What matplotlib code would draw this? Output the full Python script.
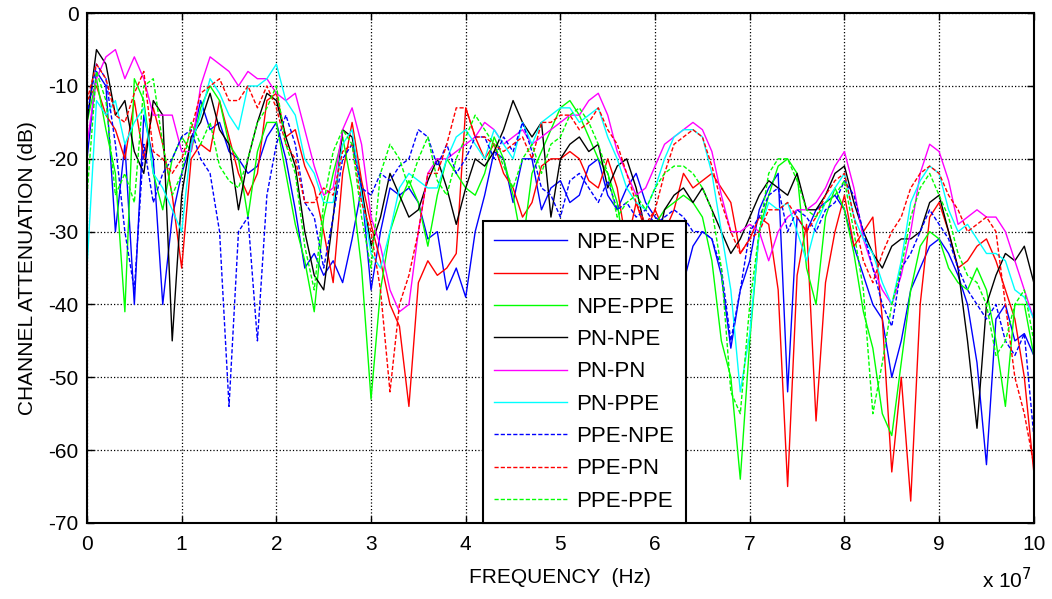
import numpy as np
import matplotlib
matplotlib.use("Agg")
import matplotlib.pyplot as plt

plt.rcParams['font.family'] = ['Liberation Sans', 'DejaVu Sans']
plt.rcParams['axes.unicode_minus'] = False

# frequency grid, MHz
freq_mhz = np.arange(0, 101)

npe_npe = [-20, -8, -10, -30, -18, -40, -14, -20, -40, -28,
           -22, -18, -12, -16, -15, -19, -20, -22, -21, -17,
           -15, -20, -27, -35, -33, -36, -34, -37, -31, -24,
           -38, -30, -24, -25, -24, -26, -31, -30, -38, -35,
           -39, -30, -25, -19, -20, -26, -20, -20, -27, -24,
           -23, -26, -25, -21, -20, -25, -27, -24, -22, -26,
           -28, -29, -30, -37, -32, -30, -31, -36, -46, -38,
           -34, -27, -24, -22, -52, -28, -30, -27, -26, -25,
           -27, -32, -36, -40, -42, -50, -45, -38, -35, -32,
           -31, -33, -36, -40, -48, -62, -42, -40, -45, -44, -47]

npe_pn = [-12, -10, -14, -16, -20, -12, -20, -13, -18, -25,
          -35, -20, -18, -19, -12, -17, -22, -25, -22, -12,
          -11, -17, -16, -21, -24, -30, -37, -22, -15, -23,
          -29, -34, -40, -43, -54, -37, -34, -36, -35, -33,
          -13, -17, -20, -18, -22, -24, -28, -26, -21, -20,
          -20, -19, -20, -23, -24, -20, -24, -32, -26, -30,
          -27, -30, -27, -22, -24, -23, -22, -24, -26, -33,
          -31, -28, -29, -38, -65, -36, -29, -56, -37, -30,
          -25, -32, -30, -28, -42, -63, -50, -67, -40, -28,
          -26, -30, -35, -34, -32, -31, -34, -38, -42, -50, -63]

npe_ppe = [-15, -9, -16, -22, -41, -9, -12, -22, -27, -20,
           -17, -19, -13, -10, -12, -18, -20, -28, -19, -15,
           -15, -22, -29, -34, -41, -28, -22, -17, -24, -35,
           -53, -38, -30, -26, -23, -26, -32, -25, -20, -22,
           -24, -25, -22, -17, -20, -25, -32, -22, -19, -16,
           -13, -12, -14, -17, -20, -22, -26, -35, -30, -30,
           -29, -27, -26, -25, -26, -28, -34, -45, -50, -64,
           -45, -30, -25, -21, -20, -22, -35, -40, -28, -24,
           -27, -33, -41, -46, -55, -58, -48, -38, -32, -30,
           -31, -35, -37, -38, -35, -38, -45, -54, -40, -40, -47]

pn_npe = [-15, -5, -7, -14, -12, -19, -22, -12, -14, -45,
          -25, -17, -15, -11, -16, -18, -27, -20, -15, -11,
          -12, -17, -21, -30, -36, -38, -28, -16, -17, -24,
          -32, -28, -22, -25, -28, -27, -23, -20, -24, -29,
          -24, -20, -21, -19, -16, -12, -15, -17, -15, -28,
          -20, -18, -17, -19, -18, -24, -21, -20, -24, -30,
          -33, -27, -25, -24, -26, -24, -27, -30, -33, -31,
          -28, -25, -23, -24, -25, -22, -27, -27, -25, -22,
          -21, -26, -30, -33, -35, -32, -31, -31, -30, -26,
          -25, -30, -35, -45, -57, -40, -36, -33, -34, -32, -37]

pn_pn = [-18, -9, -6, -5, -9, -6, -9, -14, -14, -14,
         -19, -19, -10, -6, -7, -8, -10, -8, -9, -9,
         -11, -12, -11, -16, -21, -25, -24, -16, -13, -18,
         -28, -32, -38, -41, -40, -30, -22, -20, -20, -19,
         -18, -17, -15, -16, -18, -17, -16, -18, -17, -16,
         -15, -14, -14, -12, -11, -14, -19, -22, -25, -24,
         -21, -18, -17, -16, -15, -16, -19, -25, -30, -30,
         -29, -30, -34, -30, -28, -27, -27, -26, -24, -21,
         -19, -24, -31, -35, -38, -40, -36, -30, -22, -18,
         -19, -23, -29, -28, -27, -28, -28, -30, -34, -38, -42]

pn_ppe = [-35, -12, -14, -12, -18, -15, -13, -22, -24, -27,
          -30, -18, -14, -9, -11, -14, -16, -10, -10, -9,
          -7, -12, -14, -20, -22, -26, -26, -18, -16, -25,
          -33, -35, -30, -24, -22, -23, -24, -24, -20, -17,
          -16, -18, -20, -16, -18, -20, -15, -18, -15, -14,
          -13, -13, -15, -14, -13, -17, -20, -24, -26, -27,
          -24, -20, -17, -16, -16, -17, -22, -30, -38, -52,
          -44, -30, -26, -27, -26, -30, -34, -29, -26, -24,
          -22, -28, -31, -33, -37, -40, -34, -26, -23, -21,
          -22, -27, -30, -29, -31, -33, -33, -34, -38, -39, -42]

ppe_npe = [-14, -7, -9, -18, -30, -38, -18, -26, -22, -20,
           -17, -16, -20, -22, -30, -54, -30, -28, -45, -25,
           -18, -14, -18, -26, -28, -35, -28, -20, -18, -24,
           -25, -22, -23, -21, -20, -16, -17, -21, -18, -22,
           -20, -17, -17, -20, -17, -19, -15, -19, -24, -25,
           -28, -23, -22, -24, -26, -23, -27, -26, -28, -27,
           -29, -28, -27, -28, -30, -30, -31, -35, -45, -38,
           -30, -28, -25, -24, -30, -27, -28, -30, -27, -26,
           -23, -25, -30, -35, -40, -43, -35, -33, -30, -27,
           -29, -31, -35, -38, -40, -42, -40, -45, -47, -44, -58]

ppe_pn = [-12, -7, -9, -14, -15, -11, -8, -19, -20, -22,
          -20, -16, -11, -10, -9, -12, -12, -10, -13, -10,
          -13, -18, -20, -26, -26, -24, -25, -19, -18, -26,
          -30, -38, -52, -40, -36, -30, -22, -22, -18, -13,
          -13, -17, -17, -18, -19, -18, -17, -20, -15, -15,
          -14, -14, -16, -15, -13, -16, -18, -22, -26, -29,
          -27, -22, -18, -17, -16, -17, -21, -26, -30, -33,
          -31, -30, -27, -27, -26, -28, -30, -28, -25, -23,
          -22, -28, -34, -37, -33, -30, -28, -24, -22, -21,
          -22, -25, -27, -30, -29, -28, -30, -40, -50, -55, -62]

ppe_ppe = [-25, -8, -12, -25, -22, -26, -10, -9, -18, -25,
           -22, -15, -18, -15, -21, -23, -24, -20, -15, -13,
           -10, -18, -22, -32, -38, -26, -19, -16, -18, -28,
           -35, -22, -18, -20, -24, -20, -17, -23, -25, -20,
           -17, -14, -16, -18, -21, -24, -20, -18, -22, -18,
           -17, -14, -13, -15, -18, -22, -28, -26, -25, -27,
           -24, -22, -21, -21, -22, -24, -27, -35, -52, -55,
           -40, -30, -22, -20, -20, -23, -27, -28, -26, -25,
           -23, -30, -38, -55, -48, -40, -35, -28, -24, -22,
           -25, -28, -33, -36, -37, -40, -47, -45, -40, -38, -45]

labels = ['NPE-NPE', 'NPE-PN', 'NPE-PPE', 'PN-NPE', 'PN-PN', 'PN-PPE',
          'PPE-NPE', 'PPE-PN', 'PPE-PPE']
series = [npe_npe, npe_pn, npe_ppe, pn_npe, pn_pn, pn_ppe,
          ppe_npe, ppe_pn, ppe_ppe]
colors = ['#0000ff', '#ff0000', '#00ff00', '#000000', '#ff00ff', '#00ffff',
          '#0000ff', '#ff0000', '#00ff00']
dash = (0, (3, 1.5))
styles = ['-'] * 6 + [dash] * 3

fig = plt.figure(figsize=(10.52, 5.99), dpi=100)
ax = fig.add_axes([0.0827, 0.127, 0.900, 0.851])

x = freq_mhz * 1e6 / 1e7
for s, lab, c, ls in zip(series, labels, colors, styles):
    ax.plot(x, s, color=c, linestyle=ls, linewidth=1.0, label=lab)

ax.set_xlim(0, 10)
ax.set_ylim(-70, 0)
ax.set_xticks(range(0, 11))
ax.set_yticks(range(-70, 1, 10))
ax.tick_params(direction='in', top=True, right=True, length=5, width=1,
               labelsize=15)
ax.tick_params(axis='x', pad=9)
ax.tick_params(axis='y', pad=6)
ax.grid(True, color='black', linestyle=':', linewidth=0.9)
for sp in ax.spines.values():
    sp.set_linewidth(1.5)

ax.set_xlabel('FREQUENCY  (Hz)', fontsize=15, labelpad=10)
ax.set_ylabel('CHANNEL ATTENUATION (dB)', fontsize=15, labelpad=8)
fig.text(0.933, 0.018, r'x 10$^{7}$', fontsize=15)

leg = ax.legend(loc='lower left', bbox_to_anchor=(0.418, 0.0), borderaxespad=0,
                fontsize=16, handlelength=3.3, handletextpad=0.4,
                labelspacing=0.51, fancybox=False, framealpha=1,
                edgecolor='black', borderpad=0.5)
leg.get_frame().set_linewidth(1.5)

fig.savefig('out.png', dpi=100)
